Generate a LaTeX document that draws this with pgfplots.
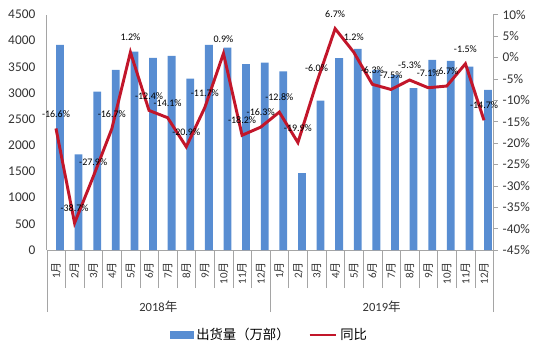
\documentclass[border=0pt]{standalone}
\usepackage{fontspec}
\setmainfont{Carlito}
\newfontfamily\cjk{Noto Sans CJK SC}
\usepackage{pgfplots}
\pgfplotsset{compat=1.18}
\definecolor{barblue}{RGB}{88,141,210}
\definecolor{linered}{RGB}{194,22,42}
\definecolor{axgray}{RGB}{165,165,165}
\newcommand\yue{{\cjk 月}}
\begin{document}
\begin{tikzpicture}
\begin{axis}[
  at={(0,0)}, anchor=south west, scale only axis,
  width=335pt, height=176.6pt,
  xmin=-0.5, xmax=23.5, ymin=0, ymax=4500,
  clip=false,
  axis x line*=bottom, axis y line*=left,
  axis line style={draw=axgray},
  ytick distance=500,
  ytick style={draw=none},
  yticklabel shift=-23.5pt,
  yticklabel style={font=\fontsize{10}{12}\selectfont, text=black!80},
  /pgf/number format/assume math mode=true,
  /pgf/number format/set thousands separator={},
  xtick={-0.5,0.5,...,23.5},
  x tick label as interval,
  xticklabels={1\yue,2\yue,3\yue,4\yue,5\yue,6\yue,7\yue,8\yue,9\yue,10\yue,11\yue,12\yue,1\yue,2\yue,3\yue,4\yue,5\yue,6\yue,7\yue,8\yue,9\yue,10\yue,11\yue,12\yue},
  xticklabel shift=-23pt,
  xticklabel style={rotate=90, anchor=east, font=\fontsize{8.25}{9}\selectfont, text=black!80},
  tick align=outside,
  major tick length=28.5pt,
  xtick style={draw=axgray},
  extra x ticks={-0.5,11.5,23.5},
  extra x tick labels={},
  extra x tick style={major tick length=46.5pt},
]
\addplot[ybar, bar width=0.42, bar shift=0.215, fill=barblue, draw=none] coordinates {
(0,3918) (1,1829) (2,3029) (3,3442) (4,3790) (5,3670) (6,3709) (7,3276) (8,3918) (9,3867) (10,3550) (11,3581)
(12,3415) (13,1470) (14,2857) (15,3665) (16,3842) (17,3442) (18,3347) (19,3093) (20,3632) (21,3613) (22,3505) (23,3061)
};
\node[font=\fontsize{9.4}{11}\selectfont, text=black!80] at ([yshift=-42.75pt]axis cs:5.5,0) {2018{\cjk 年}};
\node[font=\fontsize{9.4}{11}\selectfont, text=black!80] at ([yshift=-42.75pt]axis cs:17.5,0) {2019{\cjk 年}};
\end{axis}
\begin{axis}[
  at={(0,0)}, anchor=south west, scale only axis,
  width=335pt, height=176.6pt,
  xmin=-0.5, xmax=23.5, ymin=-45, ymax=10,
  clip=false,
  axis y line*=right, axis x line=none,
  axis line style={draw=axgray},
  ytick distance=5,
  yticklabel={\pgfmathprintnumber{\tick}\%},
  yticklabel style={font=\fontsize{10}{12}\selectfont, text=black!80},
  tick align=outside, major tick length=3.5pt,
  ytick style={draw=axgray},
  /pgf/number format/assume math mode=true,
  legend style={at={(0.5,-0.361)}, anchor=center, draw=none, fill=none,
    legend columns=2, font=\fontsize{10}{12}\selectfont,
    /tikz/every even column/.append style={column sep=12pt}},
]
\addlegendimage{legend image code/.code={\fill[barblue] (0pt,-2.7pt) rectangle (17pt,2.7pt);}}
\addlegendentry{{\cjk 出货量（万部）}}
\addplot[linered, line width=2.2pt, mark=none, point meta=y,
  nodes near coords={\pgfmathprintnumber[fixed,fixed zerofill,precision=1]{\pgfplotspointmeta}\%},
  every node near coord/.append style={anchor=center, yshift=11pt, font=\fontsize{7.5}{9}\selectfont, text=black},
  legend image code/.code={\draw[linered,line width=2pt] (0pt,0pt) -- (20pt,0pt);}]
coordinates {
(0,-16.6) (1,-38.7) (2,-27.9) (3,-16.7) (4,1.2) (5,-12.4) (6,-14.1) (7,-20.9) (8,-11.7) (9,0.9) (10,-18.2) (11,-16.3)
(12,-12.8) (13,-19.9) (14,-6.0) (15,6.7) (16,1.2) (17,-6.3) (18,-7.5) (19,-5.3) (20,-7.1) (21,-6.7) (22,-1.5) (23,-14.7)
};
\addlegendentry{{\cjk 同比}}
\end{axis}
\pgfresetboundingbox
\useasboundingbox (-35pt,-75.75pt) rectangle (370pt,187.5pt);
\end{tikzpicture}
\end{document}
